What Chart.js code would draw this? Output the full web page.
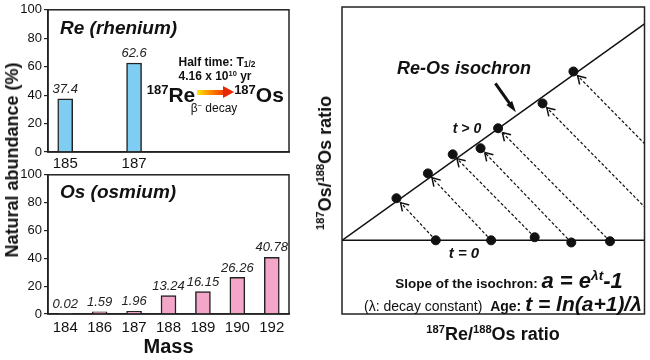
<!DOCTYPE html>
<html>
<head>
<meta charset="utf-8">
<script src="https://cdn.jsdelivr.net/npm/chart.js@4.4.1/dist/chart.umd.min.js"></script>
<style>
  body { margin: 0; width: 650px; height: 360px; position: relative; background: #fff; overflow: hidden;
         font-family: "Liberation Sans", Arial, sans-serif; color: #111; }
  canvas { position: absolute; }
  .t { position: absolute; white-space: nowrap; line-height: 1; transform: translate(-50%, -50%); }
  .esq { transform: translate(0, -50%); }
  .b { font-weight: bold; }
  .bi { font-weight: bold; font-style: italic; }
  sup { font-size: 0.62em; vertical-align: 0.6em; line-height: 0; }
  sub { font-size: 0.7em; vertical-align: -0.15em; line-height: 0; }
  .rot { transform: translate(-50%, -50%) rotate(-90deg); }
  #seta { position: absolute; left: 197px; top: 90px; width: 27px; height: 5px;
          background: linear-gradient(to right, #ffe600, #ff8a00, #f23a00); }
  #setaPonta { position: absolute; left: 223px; top: 86px; width: 0; height: 0;
               border-top: 6.5px solid transparent; border-bottom: 6.5px solid transparent; border-left: 11px solid #e82800; }
</style>
</head>
<body>
<canvas id="graficoRe" width="300" height="180" style="left:0;top:0"></canvas>
<canvas id="graficoOs" width="300" height="195" style="left:0;top:165px"></canvas>
<canvas id="graficoIsocrona" width="350" height="360" style="left:300px;top:0"></canvas>

<!-- textos do painel esquerdo -->
<div class="t rot b" style="left:12px;top:160px;font-size:18px">Natural abundance (%)</div>
<div class="t esq bi" style="left:60px;top:27px;font-size:19px">Re (rhenium)</div>
<div class="t esq bi" style="left:60px;top:191px;font-size:19px">Os (osmium)</div>
<div class="t b" style="left:217px;top:62px;font-size:12px">Half time: T<sub>1/2</sub></div>
<div class="t b" style="left:215px;top:76px;font-size:12px">4.16 x 10<sup>10</sup> yr</div>
<div class="t b" style="left:171px;top:94px;font-size:21px"><sup>187</sup>Re</div>
<div id="seta"></div><div id="setaPonta"></div>
<div class="t b" style="left:259px;top:94px;font-size:21px"><sup>187</sup>Os</div>
<div class="t" style="left:214px;top:108px;font-size:12px">β<sup>−</sup> decay</div>

<!-- textos do painel direito -->
<div class="t rot b" style="left:325px;top:163px;font-size:18px"><sup>187</sup>Os/<sup>188</sup>Os ratio</div>
<div class="t b" style="left:493px;top:334px;font-size:18px"><sup>187</sup>Re/<sup>188</sup>Os ratio</div>
<div class="t bi" style="left:464px;top:68px;font-size:18px">Re-Os isochron</div>
<div class="t bi" style="left:467px;top:128px;font-size:14px">t &gt; 0</div>
<div class="t bi" style="left:464px;top:252px;font-size:15px">t = 0</div>
<div class="t" style="left:509px;top:281px"><span class="b" style="font-size:13.5px">Slope of the isochron: </span><span class="bi" style="font-size:22px">a = e<sup>λt</sup>-1</span></div>
<div class="t" style="left:503px;top:303px"><span style="font-size:14px">(λ: decay constant)&nbsp; </span><span class="b" style="font-size:14px">Age: </span><span class="bi" style="font-size:21px">t = ln(a+1)/λ</span></div>

<script>
// abundâncias naturais (%)
const reMassa = [185, 187];
const reAbund = [37.4, 62.6];
const osMassa = ['184', '186', '187', '188', '189', '190', '192'];
const osAbund = [0.02, 1.59, 1.96, 13.24, 16.15, 26.26, 40.78];
const abundTicks = [0, 20, 40, 60, 80, 100];

// diagrama da isócrona (unidades arbitrárias)
const isoX = [1.80, 2.84, 3.66, 4.58, 5.16, 6.63, 7.65];   // pontos sobre a isócrona (t > 0)
const isoY = [1.37, 2.18, 2.80, 3.00, 3.65, 4.46, 5.50];
const origemX = [3.10, 4.93, 6.37, 7.58, 8.86, 11.09, 13.15]; // pontos iniciais (t = 0)
const origemY = [0.00, 0.00, 0.10, -0.07, -0.03, 0.00, 0.00];
const retaIsoX = [0, 10];
const retaIsoY = [0, 7.05];
const retaZeroX = [0, 10];
const retaZeroY = [0, 0];
const ponteiroX = [5.07, 5.75]; // seta "Re-Os isochron"
const ponteiroY = [5.11, 4.17];

const corBorda = '#222';
const fonte = "'Liberation Sans', Arial, sans-serif";

// moldura em volta da área do gráfico
const moldura = {
  id: 'moldura',
  afterDatasetsDraw(chart) {
    const a = chart.chartArea;
    const ctx = chart.ctx;
    ctx.save();
    ctx.strokeStyle = corBorda;
    ctx.lineWidth = 1.5;
    ctx.strokeRect(a.left, a.top, a.right - a.left, a.bottom - a.top);
    ctx.restore();
  }
};

// valores em cima das barras
const rotulosBarras = {
  id: 'rotulosBarras',
  afterDatasetsDraw(chart) {
    const ctx = chart.ctx;
    const meta = chart.getDatasetMeta(0);
    const valores = chart.data.datasets[0].data;
    ctx.save();
    ctx.font = "italic 13px " + fonte;
    ctx.fillStyle = '#222';
    ctx.textAlign = 'center';
    ctx.textBaseline = 'bottom';
    meta.data.forEach((barra, i) => {
      const v = valores[i];
      const valor = typeof v === 'object' ? v.y : v;
      ctx.fillText(String(valor), barra.x, barra.y - 3);
    });
    ctx.restore();
  }
};

function eixoY() {
  return {
    min: 0, max: 100,
    afterBuildTicks: ax => { ax.ticks = abundTicks.map(v => ({ value: v })); },
    afterFit: ax => { ax.width = 48; },
    grid: { drawOnChartArea: false, drawTicks: true, tickLength: 4, color: corBorda, lineWidth: 1.2 },
    border: { color: corBorda, width: 1.5 },
    ticks: { font: { size: 13, family: fonte }, color: '#111', padding: 2 }
  };
}

new Chart(document.getElementById('graficoRe'), {
  type: 'bar',
  data: {
    datasets: [{
      data: reMassa.map((m, i) => ({ x: m, y: reAbund[i] })),
      backgroundColor: '#80cdf4',
      borderColor: corBorda,
      borderWidth: 1.5,
      barThickness: 15
    }]
  },
  options: {
    responsive: false,
    animation: false,
    layout: { padding: { top: 7, right: 11, left: 0, bottom: 0 } },
    plugins: { legend: { display: false }, tooltip: { enabled: false } },
    scales: {
      x: {
        type: 'linear', min: 184.5, max: 191.5, offset: false,
        afterBuildTicks: ax => { ax.ticks = reMassa.map(v => ({ value: v })); },
        afterFit: ax => { ax.height = 28; },
        grid: { display: false, drawTicks: false },
        border: { color: corBorda, width: 1.5 },
        ticks: { font: { size: 15, family: fonte }, color: '#111', padding: 3, callback: v => String(v) }
      },
      y: eixoY()
    }
  },
  plugins: [moldura, rotulosBarras]
});

new Chart(document.getElementById('graficoOs'), {
  type: 'bar',
  data: {
    labels: osMassa,
    datasets: [{
      data: osAbund,
      backgroundColor: '#f4a6c9',
      borderColor: corBorda,
      borderWidth: 1.5,
      barThickness: 15
    }]
  },
  options: {
    responsive: false,
    animation: false,
    layout: { padding: { top: 7, right: 11, left: 0, bottom: 0 } },
    plugins: { legend: { display: false }, tooltip: { enabled: false } },
    scales: {
      x: {
        afterFit: ax => { ax.height = 46; },
        grid: { display: false, drawTicks: false },
        border: { color: corBorda, width: 1.5 },
        ticks: { font: { size: 15, family: fonte }, color: '#111', padding: 5 },
        title: { display: true, text: 'Mass', color: '#111', font: { size: 20, weight: 'bold', family: fonte }, padding: { top: 0, bottom: 1 } }
      },
      y: eixoY()
    }
  },
  plugins: [moldura, rotulosBarras]
});

// pontas de seta nas linhas tracejadas + seta do rótulo
const setas = {
  id: 'setas',
  afterDatasetsDraw(chart) {
    const { ctx, chartArea: a, scales: { x, y } } = chart;
    ctx.save();
    ctx.beginPath();
    ctx.rect(a.left, a.top, a.right - a.left, a.bottom - a.top);
    ctx.clip();
    ctx.strokeStyle = '#111';
    ctx.lineWidth = 1.5;
    ctx.beginPath();
    isoX.forEach((vx, i) => {
      const px = x.getPixelForValue(vx), py = y.getPixelForValue(isoY[i]);
      const sx = x.getPixelForValue(origemX[i]), sy = y.getPixelForValue(origemY[i]);
      const ang = Math.atan2(py - sy, px - sx);
      const tx = px - Math.cos(ang) * 6, ty = py - Math.sin(ang) * 6;
      [-0.55, 0.55].forEach(d => {
        ctx.moveTo(tx, ty);
        ctx.lineTo(tx - Math.cos(ang + d) * 9, ty - Math.sin(ang + d) * 9);
      });
    });
    ctx.stroke();

    // seta grossa apontando para a isócrona
    const x0 = x.getPixelForValue(ponteiroX[0]), y0 = y.getPixelForValue(ponteiroY[0]);
    const x1 = x.getPixelForValue(ponteiroX[1]), y1 = y.getPixelForValue(ponteiroY[1]);
    const ang = Math.atan2(y1 - y0, x1 - x0);
    ctx.lineWidth = 3;
    ctx.beginPath();
    ctx.moveTo(x0, y0);
    ctx.lineTo(x1 - Math.cos(ang) * 8, y1 - Math.sin(ang) * 8);
    ctx.stroke();
    ctx.fillStyle = '#111';
    ctx.beginPath();
    ctx.moveTo(x1, y1);
    ctx.lineTo(x1 - Math.cos(ang - 0.3) * 12, y1 - Math.sin(ang - 0.3) * 12);
    ctx.lineTo(x1 - Math.cos(ang + 0.3) * 12, y1 - Math.sin(ang + 0.3) * 12);
    ctx.closePath();
    ctx.fill();
    ctx.restore();
  }
};

const tracejados = isoX.map((vx, i) => ({
  data: [{ x: origemX[i], y: origemY[i] }, { x: vx, y: isoY[i] }],
  showLine: true,
  borderColor: '#111',
  borderWidth: 1.2,
  borderDash: [3, 2],
  pointRadius: 0,
  order: 3
}));

new Chart(document.getElementById('graficoIsocrona'), {
  type: 'scatter',
  data: {
    datasets: [
      {
        data: isoX.map((vx, i) => ({ x: vx, y: isoY[i] })),
        backgroundColor: '#111', borderColor: '#111',
        pointRadius: 4.5, order: 0
      },
      {
        data: origemX.slice(0, 5).map((vx, i) => ({ x: vx, y: origemY[i] })),
        backgroundColor: '#111', borderColor: '#111',
        pointRadius: 4.5, order: 0
      },
      {
        data: retaIsoX.map((vx, i) => ({ x: vx, y: retaIsoY[i] })),
        showLine: true, borderColor: '#111', borderWidth: 1.5, pointRadius: 0, order: 1
      },
      {
        data: retaZeroX.map((vx, i) => ({ x: vx, y: retaZeroY[i] })),
        showLine: true, borderColor: '#111', borderWidth: 1.5, pointRadius: 0, order: 1
      },
      ...tracejados
    ]
  },
  options: {
    responsive: false,
    animation: false,
    layout: { padding: { top: 7, right: 2, left: 42, bottom: 46 } },
    plugins: { legend: { display: false }, tooltip: { enabled: false } },
    scales: {
      x: { type: 'linear', min: 0, max: 10, display: false },
      y: { type: 'linear', min: -2.4, max: 7.6, display: false }
    }
  },
  plugins: [moldura, setas]
});
</script>
</body>
</html>
